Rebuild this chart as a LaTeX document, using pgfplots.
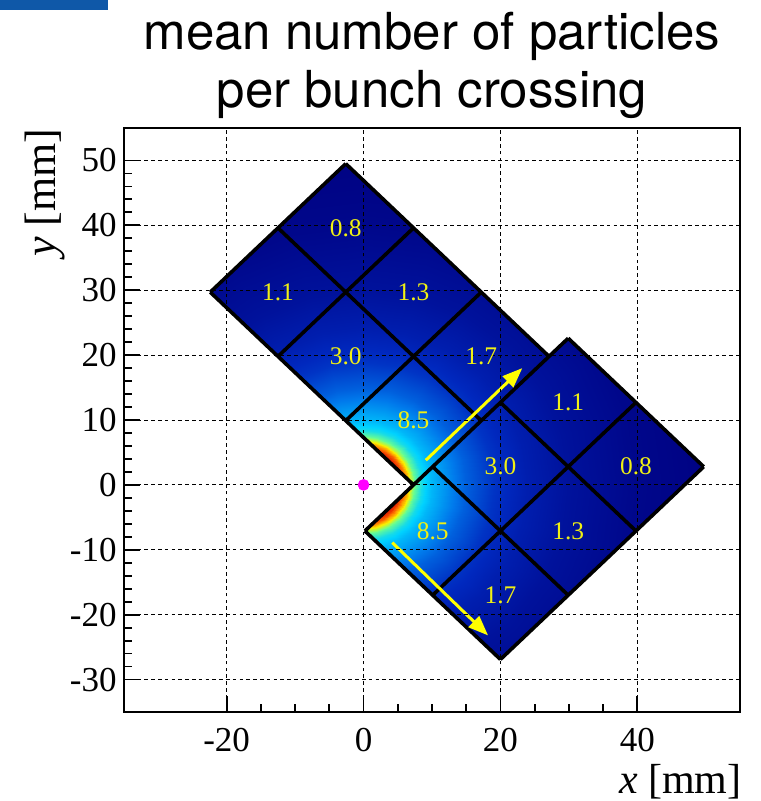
\documentclass[border=0pt]{standalone}
\usepackage{fontspec}
\setmainfont{Liberation Serif}
\newfontfamily\titlefont{TeX Gyre Heros}
\usepackage{pgfplots}
\pgfplotsset{compat=1.18}
\usetikzlibrary{arrows.meta}
\definecolor{lab}{RGB}{240,240,20}
\definecolor{arr}{RGB}{255,255,0}
\definecolor{barblue}{RGB}{15,88,168}
\definecolor{dotpink}{RGB}{255,0,255}
\begin{document}
\begin{tikzpicture}
\useasboundingbox (-62pt,-44.5pt) rectangle (318pt,356pt);
\fill[barblue] (-62pt,356pt) rectangle (-8pt,351pt);
\begin{axis}[name=ax, at={(0pt,0pt)}, anchor=south west,
 scale only axis, width=308pt, height=292pt,
 xmin=-35, xmax=55, ymin=-35, ymax=55,
 axis on top, tick pos=left, tick align=inside,
 xtick={-20,0,20,40}, ytick={-30,-20,...,50},
 minor x tick num=3, minor y tick num=4,
 major tick length=8pt, minor tick length=4pt,
 every tick/.append style={black, line width=0.9pt},
 grid=major,
 major grid style={black, line width=0.5pt, dash pattern=on 1.8pt off 1.6pt},
 axis line style={line width=1pt},
 /pgf/number format/assume math mode=true,
 ticklabel style={font=\fontsize{17.5}{20}\selectfont},
 xticklabel style={inner sep=0pt, yshift=-8pt},
 yticklabel style={inner sep=0pt, xshift=-3.5pt},
 colormap={root}{rgb255=(0,0,128) rgb255=(0,40,190) rgb255=(0,120,235) rgb255=(0,210,255) rgb255=(110,255,140) rgb255=(250,240,0) rgb255=(255,120,0) rgb255=(225,20,0)},
 point meta min=0, point meta max=7,
]
\begin{scope}
\clip (axis cs:7.3,0) -- (axis cs:27.1,19.8) -- (axis cs:-2.6,49.5) -- (axis cs:-22.4,29.7) -- cycle
      (axis cs:20,-26.9) -- (axis cs:49.7,2.8) -- (axis cs:29.9,22.6) -- (axis cs:0.2,-7.1) -- cycle;
\addplot[surf, shader=interp, mesh/cols=16, point meta=explicit]
 table[x expr={\thisrow{r}*cos(\thisrow{a})}, y expr={\thisrow{r}*sin(\thisrow{a})}, meta=m] {
a r m
-105 4.5 7.0
-105 5.2 7.0
-105 5.6 6.7
-105 6.0 6.2
-105 6.5 5.4
-105 7.0 4.6
-105 7.5 3.9
-105 8.5 3.2
-105 10 2.7
-105 12 2.3
-105 15 1.7
-105 19 1.15
-105 24 0.75
-105 30 0.45
-105 40 0.18
-105 55 0.0
-90 4.5 7.0
-90 5.2 7.0
-90 5.6 6.7
-90 6.0 6.2
-90 6.5 5.4
-90 7.0 4.6
-90 7.5 3.9
-90 8.5 3.2
-90 10 2.7
-90 12 2.3
-90 15 1.7
-90 19 1.15
-90 24 0.75
-90 30 0.45
-90 40 0.18
-90 55 0.0
-75 4.5 7.0
-75 5.2 7.0
-75 5.6 6.7
-75 6.0 6.2
-75 6.5 5.4
-75 7.0 4.6
-75 7.5 3.9
-75 8.5 3.2
-75 10 2.7
-75 12 2.3
-75 15 1.7
-75 19 1.15
-75 24 0.75
-75 30 0.45
-75 40 0.18
-75 55 0.0
-60 4.5 7.0
-60 5.2 7.0
-60 5.6 6.7
-60 6.0 6.2
-60 6.5 5.4
-60 7.0 4.6
-60 7.5 3.9
-60 8.5 3.2
-60 10 2.7
-60 12 2.3
-60 15 1.7
-60 19 1.15
-60 24 0.75
-60 30 0.45
-60 40 0.18
-60 55 0.0
-45 4.5 7.0
-45 5.2 7.0
-45 5.6 6.7
-45 6.0 6.2
-45 6.5 5.4
-45 7.0 4.6
-45 7.5 3.9
-45 8.5 3.2
-45 10 2.7
-45 12 2.3
-45 15 1.7
-45 19 1.15
-45 24 0.75
-45 30 0.45
-45 40 0.18
-45 55 0.0
-30 4.5 7.0
-30 5.2 7.0
-30 5.6 6.7
-30 6.0 6.2
-30 6.5 5.4
-30 7.0 4.6
-30 7.5 3.9
-30 8.5 3.2
-30 10 2.7
-30 12 2.3
-30 15 1.7
-30 19 1.15
-30 24 0.75
-30 30 0.45
-30 40 0.18
-30 55 0.0
-15 4.5 7.0
-15 5.2 7.0
-15 5.6 6.7
-15 6.0 6.2
-15 6.5 5.4
-15 7.0 4.6
-15 7.5 3.9
-15 8.5 3.2
-15 10 2.7
-15 12 2.3
-15 15 1.7
-15 19 1.15
-15 24 0.75
-15 30 0.45
-15 40 0.18
-15 55 0.0
0 4.5 7.0
0 5.2 7.0
0 5.6 6.7
0 6.0 6.2
0 6.5 5.4
0 7.0 4.6
0 7.5 3.9
0 8.5 3.2
0 10 2.7
0 12 2.3
0 15 1.7
0 19 1.15
0 24 0.75
0 30 0.45
0 40 0.18
0 55 0.0
15 4.5 7.0
15 5.2 7.0
15 5.6 6.7
15 6.0 6.2
15 6.5 5.4
15 7.0 4.6
15 7.5 3.9
15 8.5 3.2
15 10 2.7
15 12 2.3
15 15 1.7
15 19 1.15
15 24 0.75
15 30 0.45
15 40 0.18
15 55 0.0
30 4.5 7.0
30 5.2 7.0
30 5.6 6.7
30 6.0 6.2
30 6.5 5.4
30 7.0 4.6
30 7.5 3.9
30 8.5 3.2
30 10 2.7
30 12 2.3
30 15 1.7
30 19 1.15
30 24 0.75
30 30 0.45
30 40 0.18
30 55 0.0
45 4.5 7.0
45 5.2 7.0
45 5.6 6.7
45 6.0 6.2
45 6.5 5.4
45 7.0 4.6
45 7.5 3.9
45 8.5 3.2
45 10 2.7
45 12 2.3
45 15 1.7
45 19 1.15
45 24 0.75
45 30 0.45
45 40 0.18
45 55 0.0
60 4.5 7.0
60 5.2 7.0
60 5.6 6.7
60 6.0 6.2
60 6.5 5.4
60 7.0 4.6
60 7.5 3.9
60 8.5 3.2
60 10 2.7
60 12 2.3
60 15 1.7
60 19 1.15
60 24 0.75
60 30 0.45
60 40 0.18
60 55 0.0
75 4.5 7.0
75 5.2 7.0
75 5.6 6.7
75 6.0 6.2
75 6.5 5.4
75 7.0 4.6
75 7.5 3.9
75 8.5 3.2
75 10 2.7
75 12 2.3
75 15 1.7
75 19 1.15
75 24 0.75
75 30 0.45
75 40 0.18
75 55 0.0
90 4.5 7.0
90 5.2 7.0
90 5.6 6.7
90 6.0 6.2
90 6.5 5.4
90 7.0 4.6
90 7.5 3.9
90 8.5 3.2
90 10 2.7
90 12 2.3
90 15 1.7
90 19 1.15
90 24 0.75
90 30 0.45
90 40 0.18
90 55 0.0
105 4.5 7.0
105 5.2 7.0
105 5.6 6.7
105 6.0 6.2
105 6.5 5.4
105 7.0 4.6
105 7.5 3.9
105 8.5 3.2
105 10 2.7
105 12 2.3
105 15 1.7
105 19 1.15
105 24 0.75
105 30 0.45
105 40 0.18
105 55 0.0
120 4.5 7.0
120 5.2 7.0
120 5.6 6.7
120 6.0 6.2
120 6.5 5.4
120 7.0 4.6
120 7.5 3.9
120 8.5 3.2
120 10 2.7
120 12 2.3
120 15 1.7
120 19 1.15
120 24 0.75
120 30 0.45
120 40 0.18
120 55 0.0
135 4.5 7.0
135 5.2 7.0
135 5.6 6.7
135 6.0 6.2
135 6.5 5.4
135 7.0 4.6
135 7.5 3.9
135 8.5 3.2
135 10 2.7
135 12 2.3
135 15 1.7
135 19 1.15
135 24 0.75
135 30 0.45
135 40 0.18
135 55 0.0
};
\end{scope}
% tile grid lines
\addplot[black, line width=1.8pt, unbounded coords=jump, line join=round] coordinates {
(7.3,0) (-22.4,29.7) (nan,nan)
(17.2,9.9) (-12.5,39.6) (nan,nan)
(27.1,19.8) (-2.6,49.5) (nan,nan)
(7.3,0) (27.1,19.8) (nan,nan)
(-2.6,9.9) (17.2,29.7) (nan,nan)
(-12.5,19.8) (7.3,39.6) (nan,nan)
(-22.4,29.7) (-2.6,49.5) (nan,nan)
(20,-26.9) (0.2,-7.1) (nan,nan)
(29.9,-17) (10.1,2.8) (nan,nan)
(39.8,-7.1) (20,12.7) (nan,nan)
(49.7,2.8) (29.9,22.6) (nan,nan)
(20,-26.9) (49.7,2.8) (nan,nan)
(10.1,-17) (39.8,12.7) (nan,nan)
(0.2,-7.1) (29.9,22.6)
};
% tile values
\addplot[draw=none, mark=none, nodes near coords, point meta=explicit symbolic,
 nodes near coords style={anchor=center, inner sep=0pt, text=lab, font=\fontsize{12.7}{14}\selectfont}]
 table[meta=l] {
x y l
7.3 9.9 8.5
-2.6 19.8 3.0
-12.5 29.7 1.1
17.2 19.8 1.7
7.3 29.7 1.3
-2.6 39.6 0.8
20 -17 1.7
10.1 -7.1 8.5
29.9 -7.1 1.3
20 2.8 3.0
39.8 2.8 0.8
29.9 12.7 1.1
};
% arrows
\addplot[arr, line width=1.5pt, -{Triangle[length=10pt, width=7.5pt]}] coordinates {(9.1,3.8) (23.2,18.0)};
\addplot[arr, line width=1.5pt, -{Triangle[length=10pt, width=7.5pt]}] coordinates {(4.2,-8.9) (18.2,-23.2)};
% beam position
\addplot[only marks, mark=*, mark size=2.7pt, dotpink] coordinates {(0,0)};
\end{axis}
\node[anchor=base, inner sep=0pt, font=\titlefont\fontsize{25.5}{29}\selectfont] at (154pt,331pt) {mean number of particles};
\node[anchor=base, inner sep=0pt, font=\titlefont\fontsize{25.5}{29}\selectfont] at (154pt,302pt) {per bunch crossing};
\node[rotate=90, anchor=east, inner sep=0pt, font=\fontsize{22}{24}\selectfont] at (-39.5pt,292pt) {\textit{y} [mm]};
\node[anchor=base east, inner sep=0pt, font=\fontsize{21}{24}\selectfont] at (309pt,-40.5pt) {\textit{x} [mm]};
\end{tikzpicture}
\end{document}
